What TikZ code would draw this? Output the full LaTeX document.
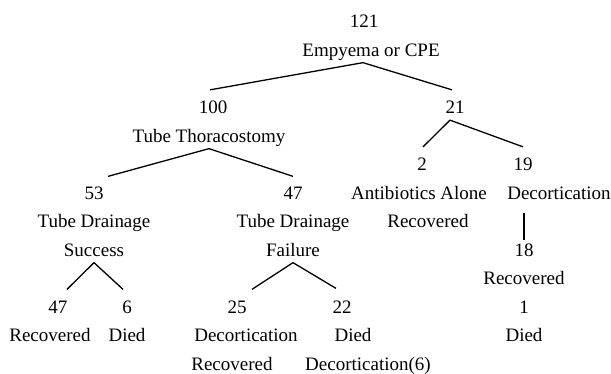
\documentclass[tikz,border=0pt]{standalone}
\usepackage{fontspec}
\setmainfont{Liberation Serif}
\usetikzlibrary{positioning}

\begin{document}
\begin{tikzpicture}[x=1pt,y=-1pt,node distance=28.5pt,on grid,line width=1.3pt,
    lbl/.style={font=\fontsize{19}{22}\selectfont,text height=13pt,text depth=4pt,
                inner xsep=0pt,inner ysep=2pt}]
  \useasboundingbox (0,0) rectangle (611,373);
  % root
  \node[lbl] (n121) at (364,23) {121};
  \node[lbl] (emp) at (371,51.5) {Empyema or CPE};
  % tube thoracostomy side
  \node[lbl] (n100) at (213,109) {100};
  \node[lbl] (tt) [below=of n100, xshift=-4pt] {Tube Thoracostomy};
  \node[lbl] (n53) at (94,194.5) {53};
  \node[lbl] (td1) [below=of n53] {Tube Drainage};
  \node[lbl] (succ) [below=of td1] {Success};
  \node[lbl] (n47a) at (293,194.5) {47};
  \node[lbl] (td2) [below=of n47a] {Tube Drainage};
  \node[lbl] (fail) [below=of td2] {Failure};
  \node[lbl] (n47b) at (58,308.5) {47};
  \node[lbl] (rec47) [below=of n47b, xshift=-8pt] {Recovered};
  \node[lbl] (n6) at (127,308.5) {6};
  \node[lbl] (died6) [below=of n6] {Died};
  \node[lbl] (n25) at (237,308.5) {25};
  \node[lbl] (dec25) [below=of n25, xshift=9pt] {Decortication};
  \node[lbl] (rec25) [below=of dec25, xshift=-14pt] {Recovered};
  \node[lbl] (n22) at (342,308.5) {22};
  \node[lbl] (died22) [below=of n22, xshift=11pt] {Died};
  \node[lbl] (dec6) [below=of died22, xshift=15pt] {Decortication(6)};
  % antibiotics / decortication side
  \node[lbl] (n21) at (455,109) {21};
  \node[lbl] (n2) at (422,166) {2};
  \node[lbl] (ab) [below=of n2, xshift=-3pt] {Antibiotics Alone};
  \node[lbl] (abrec) [below=of ab, xshift=9pt] {Recovered};
  \node[lbl] (n19) at (523,166) {19};
  \node[lbl] (dec) [below=of n19, xshift=36pt] {Decortication};
  \node[lbl] (n18) at (524,251.5) {18};
  \node[lbl] (rec18) [below=of n18] {Recovered};
  \node[lbl] (n1) [below=of rec18] {1};
  \node[lbl] (died1) [below=of n1] {Died};
  \coordinate (decfoot) at ([yshift=-7pt]dec.south);
  % branches
  \draw ([xshift=-8pt]emp.south) -- ([xshift=-3pt,yshift=8pt]n100.north);
  \draw ([xshift=-8pt]emp.south) -- ([xshift=-3pt,yshift=8pt]n21.north);
  \draw ([xshift=-5pt]n21.south) -- ([xshift=1pt,yshift=8pt]n2.north);
  \draw ([xshift=-5pt]n21.south) -- ([yshift=8pt]n19.north);
  \draw (tt.south) -- ([xshift=14pt,yshift=7pt]n53.north);
  \draw (tt.south) -- ([yshift=7pt]n47a.north);
  \draw (decfoot -| n18.north) -- (n18.north);
  \draw (succ.south) -- ([xshift=9pt,yshift=8pt]n47b.north);
  \draw (succ.south) -- ([xshift=-4pt,yshift=8pt]n6.north);
  \draw (fail.south) -- ([xshift=15pt,yshift=8pt]n25.north);
  \draw (fail.south) -- ([xshift=-6pt,yshift=9pt]n22.north);
\end{tikzpicture}
\end{document}
